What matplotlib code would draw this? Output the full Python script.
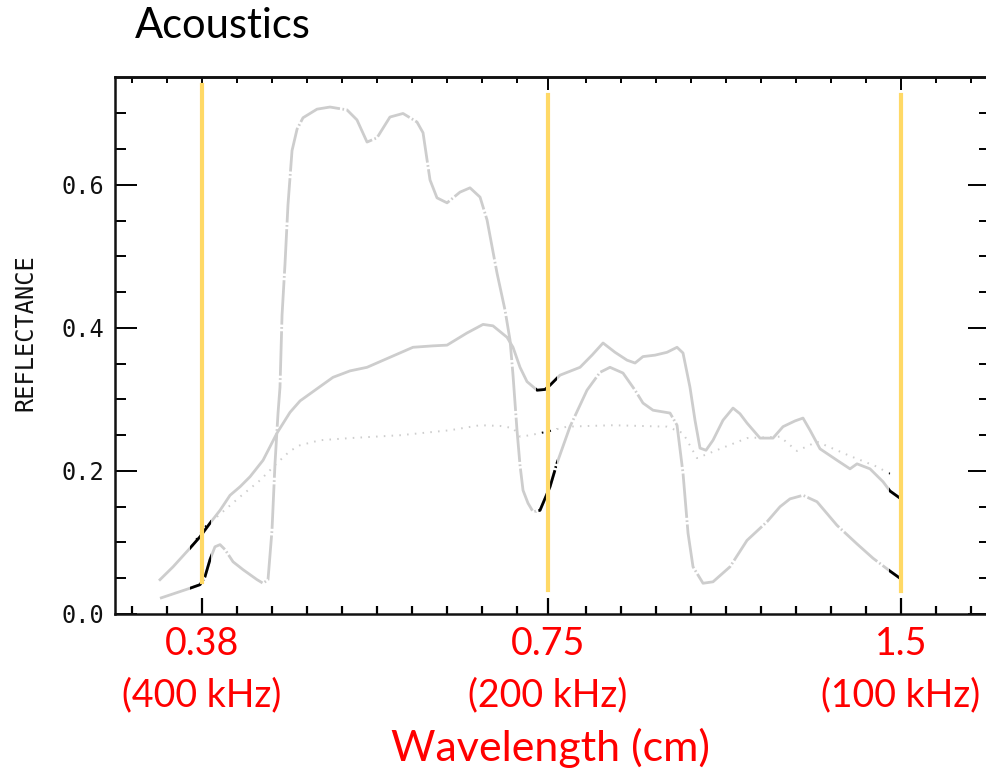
import numpy as np
import matplotlib
matplotlib.use("Agg")
import matplotlib.pyplot as plt
from matplotlib.patches import Rectangle
from matplotlib.ticker import FixedLocator, NullFormatter

# ---- spectra: wavelength (cm) vs reflectance ----
solid_wl = [0.3499, 0.3590, 0.3711, 0.3785, 0.3860, 0.3937, 0.4015, 0.4095,
            0.4176, 0.4284, 0.4403, 0.4517, 0.4607, 0.4791, 0.4915, 0.5082,
            0.5255, 0.5497, 0.5751, 0.5982, 0.6149, 0.6395, 0.6600, 0.6730,
            0.6918, 0.7000, 0.7097, 0.7195, 0.7338, 0.7454, 0.7528, 0.7677,
            0.7985, 0.8175, 0.8354, 0.8553, 0.8757, 0.8896, 0.9036, 0.9252,
            0.9473, 0.9661, 0.9775, 0.9910, 1.0008, 1.0107, 1.0227, 1.0368,
            1.0574, 1.0784, 1.0933, 1.1085, 1.1371, 1.1665, 1.1897, 1.2180,
            1.2373, 1.2545, 1.2794, 1.3228, 1.3570, 1.3758, 1.4114, 1.4479,
            1.4679, 1.4970]
solid_refl = [0.048, 0.066, 0.092, 0.108, 0.127, 0.145, 0.166, 0.178,
              0.192, 0.215, 0.253, 0.282, 0.298, 0.318, 0.331, 0.340,
              0.345, 0.359, 0.373, 0.375, 0.376, 0.393, 0.405, 0.403,
              0.387, 0.373, 0.345, 0.325, 0.313, 0.314, 0.320, 0.334,
              0.345, 0.362, 0.379, 0.366, 0.355, 0.351, 0.360, 0.362,
              0.366, 0.373, 0.365, 0.317, 0.271, 0.232, 0.229, 0.243,
              0.271, 0.288, 0.280, 0.267, 0.246, 0.246, 0.262, 0.270,
              0.274, 0.257, 0.231, 0.215, 0.203, 0.210, 0.203, 0.185,
              0.172, 0.162]

dotted_wl = [0.3726, 0.3785, 0.3837, 0.3914, 0.4095, 0.4259, 0.4403, 0.4517,
             0.4607, 0.4791, 0.5082, 0.5607, 0.6185, 0.6561, 0.6824, 0.7000,
             0.7097, 0.7238, 0.7484, 0.7783, 0.8519, 0.9473, 0.9775, 1.0048,
             1.0368, 1.1085, 1.1827, 1.2228, 1.2718, 1.3570, 1.4309, 1.4824]
dotted_refl = [0.095, 0.112, 0.125, 0.136, 0.164, 0.187, 0.211, 0.228,
               0.236, 0.243, 0.246, 0.250, 0.257, 0.264, 0.263, 0.260,
               0.248, 0.250, 0.255, 0.262, 0.264, 0.262, 0.253, 0.218,
               0.227, 0.246, 0.248, 0.228, 0.241, 0.221, 0.206, 0.192]

dashdot_wl = [0.3499, 0.3711, 0.3785, 0.3822, 0.3860, 0.3898, 0.3937, 0.3976,
              0.4039, 0.4119, 0.4234, 0.4284, 0.4326, 0.4360, 0.4386, 0.4412,
              0.4429, 0.4447, 0.4473, 0.4499, 0.4535, 0.4580, 0.4634, 0.4763,
              0.4886, 0.5052, 0.5152, 0.5255, 0.5359, 0.5497, 0.5640, 0.5797,
              0.5866, 0.5947, 0.6029, 0.6149, 0.6308, 0.6433, 0.6561, 0.6652,
              0.6783, 0.6891, 0.6959, 0.7000, 0.7055, 0.7097, 0.7139, 0.7209,
              0.7281, 0.7381, 0.7528, 0.7632, 0.7829, 0.8095, 0.8305, 0.8469,
              0.8688, 0.8896, 0.9036, 0.9216, 0.9529, 0.9661, 0.9775, 0.9872,
              0.9969, 1.0167, 1.0368, 1.0720, 1.1085, 1.1529, 1.1827, 1.2061,
              1.2373, 1.2718, 1.3228, 1.3758, 1.4197, 1.4679, 1.4970]
dashdot_refl = [0.022, 0.036, 0.041, 0.052, 0.076, 0.094, 0.097, 0.090,
                0.073, 0.062, 0.048, 0.043, 0.048, 0.117, 0.211, 0.281,
                0.317, 0.418, 0.490, 0.572, 0.648, 0.678, 0.694, 0.706,
                0.709, 0.705, 0.691, 0.660, 0.666, 0.695, 0.700, 0.688,
                0.673, 0.607, 0.582, 0.575, 0.590, 0.596, 0.583, 0.551,
                0.477, 0.425, 0.383, 0.334, 0.257, 0.208, 0.173, 0.155,
                0.143, 0.145, 0.178, 0.211, 0.262, 0.313, 0.338, 0.345,
                0.337, 0.313, 0.295, 0.285, 0.281, 0.264, 0.197, 0.113,
                0.066, 0.043, 0.045, 0.066, 0.103, 0.129, 0.150, 0.161,
                0.166, 0.157, 0.124, 0.098, 0.078, 0.060, 0.050]

# ---- acoustic bands and axis text ----
band_wl = [0.38, 0.75, 1.5]
band_labels = ["0.38\n(400 kHz)", "0.75\n(200 kHz)", "1.5\n(100 kHz)"]
y_ticks = [0.0, 0.2, 0.4, 0.6]
y_tick_labels = ["0.0", "0.2", "0.4", "0.6"]
y_minor_ticks = [0.05, 0.1, 0.15, 0.25, 0.3, 0.35, 0.45, 0.5, 0.55, 0.65, 0.7]

TEXT_FONT = ["Lato", "DejaVu Sans"]
PLOT_FONT = ["DejaVu Sans Mono", "DejaVu Sans"]
GRAY = "#cdcdcd"
BAND_COLOR = "#FFD966"
RED = "#FF0000"

fig = plt.figure(figsize=(9.86, 7.74), dpi=100)
ax = fig.add_axes([0.11663, 0.20672, 0.88742, 0.69380])
ax.set_xscale("log")
ax.set_xlim(0.3203, 1.7865)
ax.set_ylim(0.0, 0.751)

curves = [
    (solid_wl, solid_refl, dict(linestyle="-", linewidth=2.0)),
    (dotted_wl, dotted_refl, dict(linestyle=(0, (0.8, 3.2)), linewidth=1.4)),
    (dashdot_wl, dashdot_refl, dict(linestyle=(0, (16, 0.9, 0.6, 0.9)), linewidth=2.0)),
]

for wl, refl, style in curves:
    ax.plot(wl, refl, color=GRAY, zorder=2, solid_joinstyle="round",
            dash_joinstyle="round", **style)

# short black stretches of each spectrum around the band centres
for band in band_wl:
    for wl, refl, style in curves:
        (ln,) = ax.plot(wl, refl, color="black", zorder=3, **style)
        clip = Rectangle((band * 0.9767, 0.0), band * (1.0178 - 0.9767), 1.0,
                         transform=ax.get_xaxis_transform(), visible=False)
        ax.add_patch(clip)
        ln.set_clip_path(clip)

band_span = [(0.0596, 0.985), (0.0447, 0.9665), (0.0428, 0.9665)]
for band, (lo, hi) in zip(band_wl, band_span):
    ax.axvline(band, ymin=lo, ymax=hi, color=BAND_COLOR, linewidth=3.0, zorder=4)

# frame and ticks
for sp in ax.spines.values():
    sp.set_linewidth(1.8)
    sp.set_color("#111111")

ax.set_xticks(band_wl)
ax.set_xticklabels(band_labels, color=RED, fontsize=27, family=TEXT_FONT,
                   linespacing=1.5)
ratio = 1.5 / 0.38
x_minor = [0.38 * ratio ** (j / 20) for j in range(-2, 23) if j not in (0, 10, 20)]
ax.xaxis.set_minor_locator(FixedLocator(x_minor))
ax.xaxis.set_minor_formatter(NullFormatter())
ax.tick_params(axis="x", which="major", direction="in", length=11.5, width=1.6,
               bottom=True, top=False, pad=9)
ax.tick_params(axis="x", which="minor", direction="in", length=6, width=1.6,
               bottom=True, top=False)

ax.set_yticks(y_ticks)
ax.set_yticklabels(y_tick_labels, fontsize=17, family=PLOT_FONT, color="#111111")
ax.yaxis.set_minor_locator(FixedLocator(y_minor_ticks))
ax.tick_params(axis="y", which="major", direction="in", length=16, width=1.4,
               left=True, right=True, pad=8)
ax.tick_params(axis="y", which="minor", direction="in", length=8, width=1.4,
               left=True, right=True)

top = ax.secondary_xaxis("top")
top.set_xticks(band_wl)
top.xaxis.set_minor_locator(FixedLocator(x_minor))
top.xaxis.set_minor_formatter(NullFormatter())
top.tick_params(axis="x", which="major", direction="in", length=9, width=1.4,
                labeltop=False)
top.tick_params(axis="x", which="minor", direction="in", length=4.5, width=1.4,
                labeltop=False)
top.spines["top"].set_linewidth(1.8)

fig.text(25 / 986, 1 - 333 / 774, "REFLECTANCE", rotation=90, ha="center",
         va="center", fontsize=17, family=PLOT_FONT, color="#111111")
fig.text(135 / 986, 1 - 38 / 774, "Acoustics", ha="left", va="baseline",
         fontsize=30, family=TEXT_FONT, color="black")
fig.text(550 / 986, 1 - 748 / 774, "Wavelength (cm)", ha="center", va="center",
         fontsize=31, family=TEXT_FONT, color=RED)

fig.savefig("out.png", dpi=100)
